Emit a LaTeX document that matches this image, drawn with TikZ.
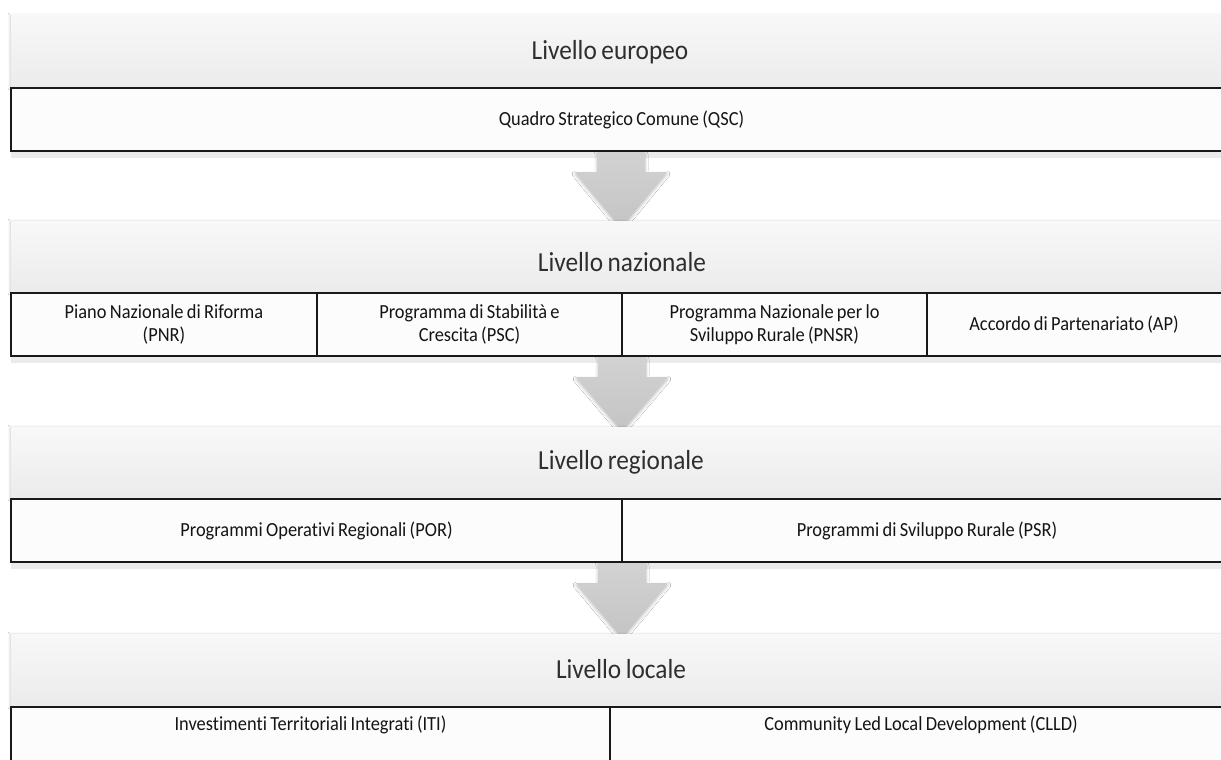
\documentclass[tikz,border=0pt]{standalone}
\usepackage{fontspec}
\setmainfont{Carlito}[FakeStretch=0.92,WordSpace=0.8,Ligatures=NoCommon]
\usetikzlibrary{shadows.blur}
\definecolor{bandtop}{HTML}{F8F8F8}
\definecolor{bandbot}{HTML}{EBEBEB}
\definecolor{boxfill}{HTML}{FCFCFC}
\definecolor{arrowtop}{HTML}{D2D2D2}
\definecolor{arrowbot}{HTML}{C4C4C4}
\definecolor{txt}{HTML}{141414}
\definecolor{headtxt}{HTML}{2E2E2E}
\begin{document}
\begin{tikzpicture}[x=1pt,y=-1pt,
  band/.style={top color=bandtop,bottom color=bandbot,draw=none,anchor=north west,
    minimum width=1221pt,inner sep=0pt,outer sep=0pt,
    blur shadow={shadow xshift=-1pt,shadow yshift=0pt,shadow blur radius=2pt,shadow opacity=18}},
  headlabel/.style={text=headtxt,font=\fontsize{27.5}{30}\selectfont},
  itembox/.style={draw=black!90,line width=1.7pt,fill=boxfill,anchor=north west,
    inner sep=2pt,outer sep=0pt,align=center,text=txt,
    font=\fontsize{20}{23}\selectfont},
  blockarrow/.style={top color=arrowtop,bottom color=arrowbot,draw=none,
    blur shadow={shadow xshift=0pt,shadow yshift=-2pt,shadow blur radius=3pt,shadow opacity=25}}
]
\useasboundingbox (0,0) rectangle (1221,760);
\clip (0,0) rectangle (1221,760);
\fill[white] (0,0) rectangle (1221,760);

% ---------- Level 1 ----------
\node[band,minimum height=73pt] (b1) at (11,15) {};
\node[headlabel] (l1) at (610,52) {Livello europeo};
\fill[black,opacity=0.08] (11,152) rectangle (1232,158);
\node[itembox,minimum width=1221pt,minimum height=63pt] (qsc) at (11,88) {Quadro Strategico Comune (QSC)};

% arrow 1
\coordinate (a1) at (621,152);
\path[blockarrow] ([xshift=-24pt]a1) -- ([xshift=24pt]a1) -- ([xshift=24pt,yshift=-20pt]a1)
  -- ([xshift=46pt,yshift=-20pt]a1) -- ([yshift=-76pt]a1) -- ([xshift=-46pt,yshift=-20pt]a1)
  -- ([xshift=-24pt,yshift=-20pt]a1) -- cycle;

% ---------- Level 2 ----------
\node[band,minimum height=72pt] (b2) at (11,221) {};
\node[headlabel] (l2) at (622,262) {Livello nazionale};
\fill[black,opacity=0.08] (11,357) rectangle (1232,363);
\node[itembox,minimum width=306pt,minimum height=63pt] (pnr) at (11,293) {Piano Nazionale di Riforma\\(PNR)};
\node[itembox,minimum width=305pt,minimum height=63pt] (psc) at (317,293) {Programma di Stabilità e\\Crescita (PSC)};
\node[itembox,minimum width=305pt,minimum height=63pt] (pnsr) at (622,293) {Programma Nazionale per lo\\Sviluppo Rurale (PNSR)};
\node[itembox,minimum width=305pt,minimum height=63pt] (ap) at (927,293) {\hspace*{-11pt}Accordo di Partenariato (AP)};

% arrow 2
\coordinate (a2) at (622,357);
\path[blockarrow] ([xshift=-24pt]a2) -- ([xshift=24pt]a2) -- ([xshift=24pt,yshift=-20pt]a2)
  -- ([xshift=46pt,yshift=-20pt]a2) -- ([yshift=-74pt]a2) -- ([xshift=-46pt,yshift=-20pt]a2)
  -- ([xshift=-24pt,yshift=-20pt]a2) -- cycle;

% ---------- Level 3 ----------
\node[band,minimum height=72pt] (b3) at (11,427) {};
\node[headlabel] (l3) at (621,462) {Livello regionale};
\fill[black,opacity=0.08] (11,563) rectangle (1232,569);
\node[itembox,minimum width=611pt,minimum height=63pt] (por) at (11,499) {Programmi Operativi Regionali (POR)};
\node[itembox,minimum width=610pt,minimum height=63pt] (psr) at (622,499) {Programmi di Sviluppo Rurale (PSR)};

% arrow 3
\coordinate (a3) at (622,563);
\path[blockarrow] ([xshift=-24pt]a3) -- ([xshift=24pt]a3) -- ([xshift=24pt,yshift=-20pt]a3)
  -- ([xshift=46pt,yshift=-20pt]a3) -- ([yshift=-75pt]a3) -- ([xshift=-46pt,yshift=-20pt]a3)
  -- ([xshift=-24pt,yshift=-20pt]a3) -- cycle;

% ---------- Level 4 ----------
\node[band,minimum height=73pt] (b4) at (11,634) {};
\node[headlabel] (l4) at (621,669) {Livello locale};
\node[itembox,minimum width=599pt,minimum height=70pt] (iti) at (11,707) {\raisebox{12pt}[0pt][0pt]{Investimenti Territoriali Integrati (ITI)}};
\node[itembox,minimum width=622pt,minimum height=70pt] (clld) at (610,707) {\raisebox{12pt}[0pt][0pt]{Community Led Local Development (CLLD)}};
\end{tikzpicture}
\end{document}
